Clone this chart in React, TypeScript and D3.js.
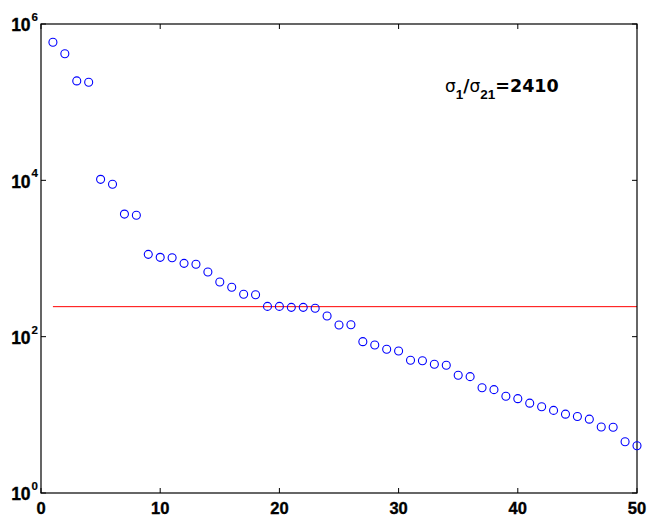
import React from 'react';
import * as d3 from 'd3';

// singular values sigma_i, i = 1..50
const singularValues: number[] = [
  5.83e5, 4.17e5, 1.87e5, 1.8e5, 1.03e4, 8.9e3, 3.7e3, 3.57e3, 1130, 1035,
  1023, 867, 843, 672, 501, 428, 349, 344, 244, 244,
  237, 237, 231, 184, 141, 142, 86.3, 78.4, 69, 65.6,
  49.9, 49.3, 44.4, 43, 32.1, 30.8, 22.2, 21.0, 17.3, 16.1,
  14.1, 12.7, 11.4, 10.2, 9.5, 8.8, 7.0, 6.93, 4.53, 4.03,
];
const xTicks: number[] = [0, 10, 20, 30, 40, 50];
const yTickExponents: number[] = [0, 2, 4, 6];
const cutoffValue: number[] = [242];
const ratioText: string[] = ['1', '21', '=2410'];

const W = 647;
const H = 518;
const left = 41;
const right = 637;
const top = 24;
const bottom = 493;

export default function App() {
  const x = d3.scaleLinear().domain([0, 50]).range([left, right]);
  const y = d3.scaleLog().domain([1, 1e6]).range([bottom, top]);
  const tickLen = 5;
  const tickFont = 'Liberation Sans, Arial, Helvetica, sans-serif';
  const labelFont = 'DejaVu Sans, Liberation Sans, sans-serif';

  return (
    <svg
      width={W}
      height={H}
      style={{ position: 'absolute', left: 0, top: 0, display: 'block', background: '#fff' }}
    >
      <rect x={0} y={0} width={W} height={H} fill="#fff" />
      {cutoffValue.map((c, i) => (
        <line
          key={'c' + i}
          x1={x(1)}
          x2={x(50)}
          y1={y(c)}
          y2={y(c)}
          stroke="#ff0000"
          strokeWidth={1}
        />
      ))}
      <rect
        x={left}
        y={top}
        width={right - left}
        height={bottom - top}
        fill="none"
        stroke="#000"
        strokeWidth={1.2}
      />
      {xTicks.map((t) => (
        <g key={'xt' + t}>
          <line x1={x(t)} x2={x(t)} y1={bottom} y2={bottom - tickLen} stroke="#000" />
          <line x1={x(t)} x2={x(t)} y1={top} y2={top + tickLen} stroke="#000" />
          <text
            x={x(t)}
            y={514}
            textAnchor="middle"
            fontFamily={tickFont}
            fontWeight={700}
            fontSize={16.5}
            fill="#000"
            stroke="#000"
            strokeWidth={0.35}
          >
            {t}
          </text>
        </g>
      ))}
      {yTickExponents.map((e) => {
        const yy = y(Math.pow(10, e));
        return (
          <g key={'yt' + e}>
            <line x1={left} x2={left + tickLen} y1={yy} y2={yy} stroke="#000" />
            <line x1={right} x2={right - tickLen} y1={yy} y2={yy} stroke="#000" />
            <text
              x={38}
              y={yy + 7.3}
              textAnchor="end"
              fontFamily={tickFont}
              fontWeight={700}
              fontSize={17.5}
              fill="#000"
              stroke="#000"
              strokeWidth={0.35}
            >
              10
              <tspan dx={1} dy={-10.3} fontSize={11.5} strokeWidth={0.2}>
                {e}
              </tspan>
            </text>
          </g>
        );
      })}
      {singularValues.map((v, i) => (
        <circle
          key={'p' + i}
          cx={x(i + 1)}
          cy={y(v)}
          r={4}
          fill="none"
          stroke="#0000ff"
          strokeWidth={1.1}
        />
      ))}
      <text x={445} y={92.3} fontFamily={labelFont} fontSize={17} fill="#000">
        σ
        <tspan dy={6.5} fontFamily={tickFont} fontWeight={700} fontSize={13.5}>
          {ratioText[0]}
        </tspan>
        <tspan dy={-6.5} fontWeight={700}>/</tspan>
        <tspan>σ</tspan>
        <tspan dy={6.5} fontFamily={tickFont} fontWeight={700} fontSize={13.5}>
          {ratioText[1]}
        </tspan>
        <tspan dy={-6.5} fontWeight={700} fontSize={17.5}>
          {ratioText[2]}
        </tspan>
      </text>
    </svg>
  );
}
